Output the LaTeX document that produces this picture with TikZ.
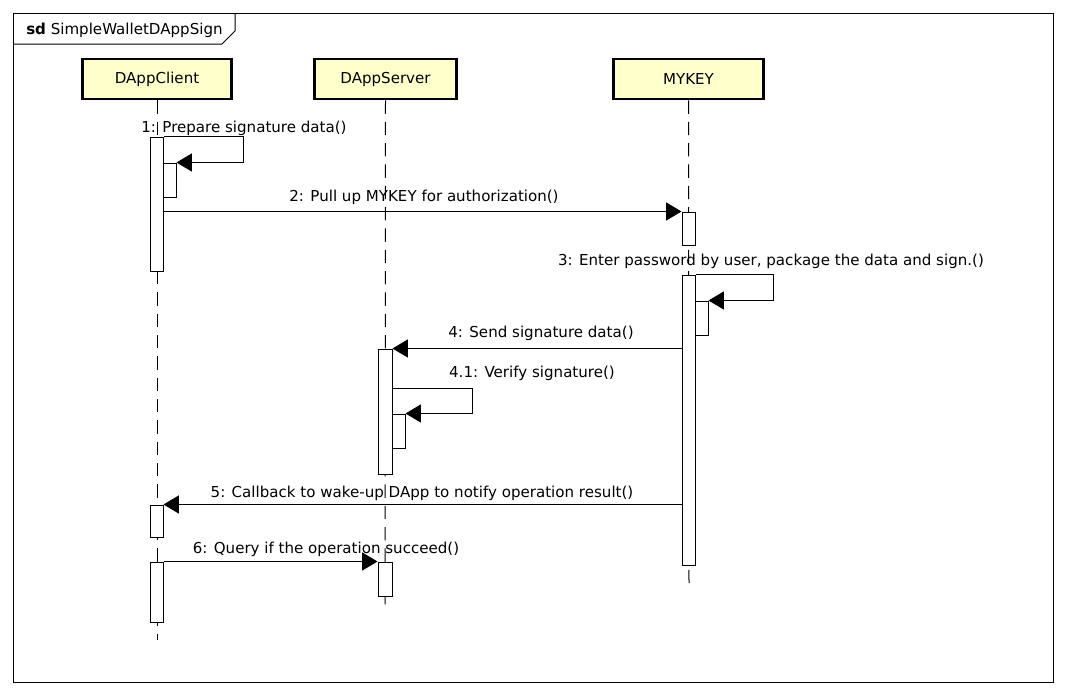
\documentclass[tikz,border=0pt]{standalone}
\usepackage{fontspec}
\setmainfont{DejaVu Sans}
\usetikzlibrary{arrows.meta,fit,positioning}

\definecolor{headfill}{RGB}{255,255,204}

\tikzset{
  head/.style={draw, line width=2.2pt, fill=headfill, minimum width=112pt, minimum height=30pt, inner sep=0pt, font=\fontsize{11.3}{13}\selectfont},
  lifeline/.style={line width=0.75pt, dash pattern=on 10pt off 6pt},
  bar/.style={draw, fill=white, line width=0.75pt, inner sep=0pt},
  msg/.style={line width=0.75pt, -{Triangle[length=11.5pt,width=13.5pt]}},
  lbl/.style={font=\fontsize{11.3}{13}\selectfont, inner sep=0pt}
}

\begin{document}
\begin{tikzpicture}[x=0.75pt,y=-0.75pt]
\useasboundingbox (0,0) rectangle (1065,696);

% frame and title tab
\draw[line width=0.75pt] (13,13) rectangle (1053,682);
\draw[line width=0.75pt] (13,44) -- (222,44) -- (235,31) -- (235,13);
\node[lbl, anchor=west] (title) at (26,30) {\textbf{sd} SimpleWalletDAppSign};

% lifeline heads
\node[head] (client) at (157,79) {DAppClient};
\node[head, minimum width=107pt] (server) at (385.5,79) {DAppServer};
\node[head] (mykey) at (688.5,79) {MYKEY};

% lifelines
\coordinate (clientend) at (157,640);
\coordinate (serverend) at (385,608);
\coordinate (mykeyend) at (689,585);
\draw[lifeline] (client.south) -- (clientend);
\draw[lifeline] (server.south) -- (serverend);
\draw[lifeline] (mykey.south) -- (mykeyend);

% activation bars
\node[bar, fit={(150,137)(163,271)}] (c1) {};
\node[bar, fit={(163,163)(176,197)}] (c1s) {};
\node[bar, fit={(682,212)(695,245)}] (k1) {};
\node[bar, fit={(682,275)(695,565)}] (k2) {};
\node[bar, fit={(695,301)(708,335)}] (k2s) {};
\node[bar, fit={(378,349)(392,474)}] (s1) {};
\node[bar, fit={(392,414)(405,448)}] (s1s) {};
\node[bar, fit={(150,505)(163,537)}] (c2) {};
\node[bar, fit={(378,562)(392,596)}] (s2) {};
\node[bar, fit={(150,562)(163,622)}] (c3) {};
\coordinate (v41) at (392,388);

% messages
\draw[msg] (c1.north east) -- ++(80,0) |- (c1s.north east);
\node[lbl] (m1) at (244,128) {1: Prepare signature data()};

\draw[msg] (c1.east |- k1.north) -- (k1.north west);
\node[lbl] (m2) at (424,197) {2: Pull up MYKEY for authorization()};

\draw[msg] (k2.north east) -- ++(78,0) |- (k2s.north east);
\node[lbl] (m3) at (771,261) {3: Enter password by user, package the data and sign.()};

\draw[msg] (k2.west |- s1.north) -- (s1.north east);
\node[lbl] (m4) at (541,333) {4: Send signature data()};

\draw[msg] (v41) -- ++(80,0) |- (s1s.north east);
\node[lbl] (m41) at (532,373) {4.1: Verify signature()};

\draw[msg] (k2.west |- c2.north) -- (c2.north east);
\node[lbl] (m5) at (422,493) {5: Callback to wake-up DApp to notify operation result()};

\draw[msg] (c3.north east) -- (s2.north west);
\node[lbl] (m6) at (326,549) {6: Query if the operation succeed()};
\end{tikzpicture}
\end{document}
